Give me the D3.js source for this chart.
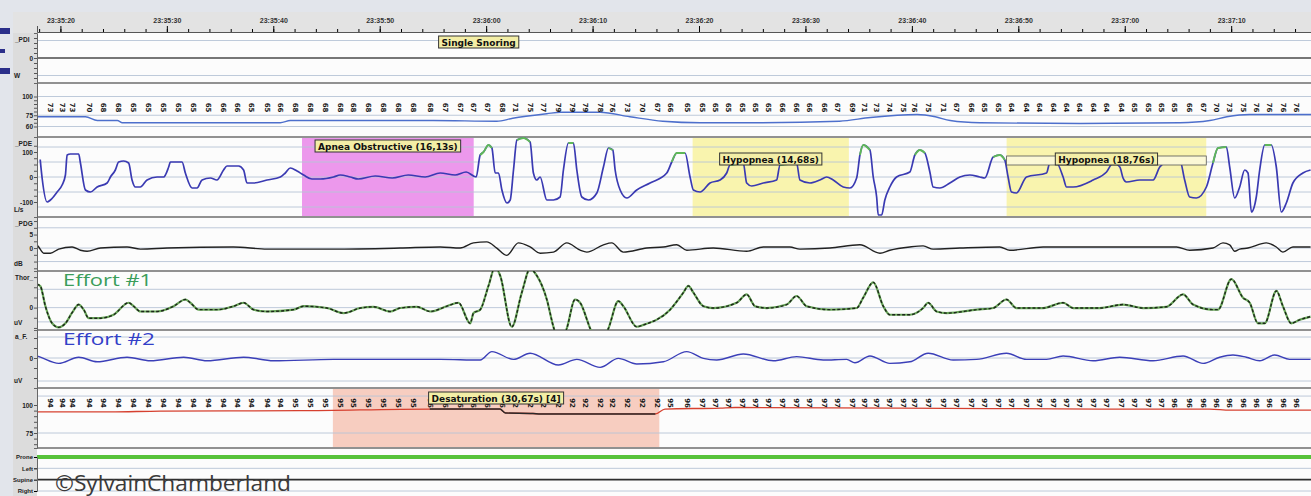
<!DOCTYPE html>
<html>
<head>
<meta charset="utf-8">
<script src="https://cdn.jsdelivr.net/npm/d3@7"></script>
<style>
  body { margin: 0; background: #e3e6ec; overflow: hidden; }
  svg { display: block; }
</style>
</head>
<body>
<div id="chart"></div>
<script>
// ---- data (time in seconds after 23:35:20) ----
const t0 = new Date(2024, 0, 1, 23, 35, 20);
const tStart = -2.2, tEnd = 117.5;

const channelNames = ["_PDI", "", "_PDE", "_PDG", "Thor_", "a_F.", "", ""];
const channelUnits = ["W", "", "L/s", "dB", "uV", "uV", "", ""];
const axisLabels = [[0], [100, 75, 60], [100, 0, -100], [5, 0], [0], [0], [100, 75], []];
const positionCats = ["Prone", "Left", "Supine", "Right"];

const snore = [[-2.2, 0], [117.5, 0]];

const heartRate = [[-2.2,73],[2.35,73],[3.47,68],[5.35,68],[5.82,65],[20.66,65],[21.6,68],[35.0,68],[41.0,67],[42.5,71],[45.7,77],[47.0,79],[50.7,79],[53.5,73],[56.6,67],[60.1,65],[65.7,65],[73.2,67],[76.1,72],[80.5,76],[82.2,73],[83.6,68],[86.4,65],[95.8,64],[105.2,65],[108.0,68],[109.6,73],[111.7,76],[117.5,76]];

const flow = [[-1.9,70],[-1.72,-4],[-1.25,-100],[-0.94,-92],[-0.31,-60],[0.16,-32],[0.47,8],[0.63,88],[0.94,92],[1.72,92],[1.88,56],[2.35,-52],[2.82,-60],[3.45,-40],[4.39,-24],[4.70,0],[5.16,28],[5.47,60],[5.94,64],[6.41,56],[6.73,-12],[7.04,-40],[7.51,-40],[8.14,-12],[9.08,0],[9.70,0],[10.17,40],[10.33,60],[11.43,60],[11.74,16],[12.37,-44],[12.84,-44],[13.31,-12],[14.09,-4],[14.71,-12],[15.33,28],[15.65,44],[16.74,44],[17.21,28],[17.53,-24],[18.15,-24],[19.41,-12],[20.66,0],[21.13,16],[21.60,36],[22.23,24],[22.85,8],[23.63,-8],[24.42,-8],[25.66,0],[26.29,8],[27.23,0],[27.98,-8],[29.58,4],[31.18,-4],[32.68,8],[34.27,0],[35.68,16],[37.09,8],[38.12,20],[39.06,0],
  [39.44,88],[39.75,100],[40.22,128],[40.54,116],[40.85,16],[41.16,16],[41.48,-52],[41.95,-104],[42.26,-92],[42.57,28],[42.89,148],[43.51,156],[44.13,140],[44.44,16],[44.76,-12],[45.07,0],[45.70,-92],[46.32,-92],[46.95,-80],[47.26,28],[47.73,136],[48.20,136],[48.52,28],[48.99,-80],[49.61,-92],[50.40,-64],[51.02,40],[51.49,116],[51.90,108],[52.12,28],[52.59,-52],[53.22,-84],[54.15,-52],[55.40,-24],[56.97,16],[57.44,60],[57.91,96],[58.69,96],[59.16,0],[59.47,-52],[60.10,-60],[61.03,-24],[61.97,-12],[62.60,16],[62.91,48],[64.16,56],[64.48,-24],[64.95,-36],[66.04,-24],[67.29,-12],[67.61,48],[69.17,56],[69.48,-12],[70.42,-24],[71.36,-12],[71.99,0],[72.61,-12],[73.55,-40],[74.18,-44],[74.81,-4],[75.12,88],[75.43,128],[76.06,108],[76.37,0],[76.69,-80],[76.84,-152],[77.16,-152],[77.46,-92],[77.93,-40],[78.56,0],[79.81,20],[80.28,88],[80.75,108],[81.22,96],[81.69,20],[82.00,-40],[82.63,-44],[83.57,-24],[84.51,0],[85.45,8],[86.38,0],[86.85,-4],[87.64,80],[88.26,88],[88.73,68],[89.04,0],[89.36,-60],[89.83,-64],[90.77,0],[92.65,16],[92.96,56],[93.59,56],[94.21,0],[94.53,-40],[95.15,-40],[97.03,-12],[98.29,20],[98.91,56],[99.54,40],[99.84,-4],[100.16,-20],[101.41,-12],[102.66,-12],[103.29,40],[103.92,60],[105.17,68],[105.63,-12],[106.10,-80],[106.73,-84],[107.67,-40],[108.29,56],[108.76,116],[109.55,120],[109.86,40],[110.33,-84],[110.80,-40],[111.27,28],[111.58,16],[111.90,-140],[112.36,-80],[112.68,28],[113.15,128],[113.77,128],[114.24,40],[114.71,-140],[115.18,-104],[115.80,-24],[116.74,16],[117.46,28]];

const pdg = [[-2.2,1.2],[-2.04,0.4],[-1.57,-1.9],[-0.94,-1.9],[-0.16,-0.4],[1.10,0.4],[1.88,-0.8],[2.51,-1.2],[3.76,0],[6.26,0.4],[7.51,-0.4],[10.02,0],[16.25,0.4],[19.41,-0.4],[25.63,-0.4],[31.92,0],[35.68,0.4],[37.56,0],[38.81,1.9],[40.06,2.3],[41.00,0],[41.94,-2.7],[43.03,1.9],[44.13,0.4],[45.07,-1.9],[46.32,-1.5],[47.58,1.9],[48.83,-0.8],[49.46,-1.5],[51.02,1.2],[51.80,1.9],[52.89,-1.5],[55.09,0],[56.65,0.4],[57.91,1.2],[58.85,-0.8],[61.34,0],[64.48,-1.2],[66.04,0.4],[68.54,0.4],[69.48,-0.4],[72.30,0],[75.12,1.2],[77.00,-1.9],[77.93,-0.8],[79.81,0.4],[81.06,0.8],[82.00,-0.4],[84.51,0],[88.26,0.4],[89.20,-0.8],[92.33,0.4],[97.03,0.4],[104.87,0.4],[106.10,-0.8],[108.29,0],[109.23,1.9],[109.86,1.2],[110.33,-1.2],[110.80,-0.4],[111.58,0],[113.30,1.9],[114.24,0.4],[114.86,-1.5],[115.80,0.4],[117.46,0.4]];

const effort1 = [[-2.19,115],[-1.88,105],[-1.41,7],[-0.78,-77],[-0.16,-97],[0.47,-77],[1.10,-25],[1.72,15],[2.19,-10],[2.66,-52],[3.76,-52],[5.00,-35],[6.41,24],[6.88,7],[7.51,-19],[9.08,-19],[10.64,7],[11.74,40],[12.21,24],[12.99,-10],[14.71,-10],[16.27,7],[17.21,24],[18.15,-10],[19.41,-19],[21.91,-10],[22.85,7],[25.04,-2],[26.60,-27],[28.17,-2],[29.42,4],[30.99,-19],[31.93,-2],[33.49,4],[34.74,-19],[36.31,7],[37.40,24],[38.50,-77],[38.81,-27],[39.44,-10],[40.22,107],[40.85,200],[41.32,157],[42.41,-94],[43.35,74],[44.13,190],[44.76,157],[45.70,40],[46.32,-94],[46.95,-185],[47.58,-102],[48.36,40],[48.83,24],[49.77,-102],[50.52,-185],[51.49,-102],[52.42,32],[52.89,7],[54.15,-94],[54.77,-85],[57.28,-10],[58.53,74],[59.00,107],[59.47,74],[60.41,7],[61.34,-2],[63.54,24],[64.48,65],[65.26,7],[66.36,-2],[68.23,15],[69.17,57],[70.11,7],[72.30,-10],[74.81,-2],[75.43,49],[76.37,124],[77.31,7],[77.93,-35],[79.81,-35],[81.06,-2],[81.53,24],[82.32,-19],[83.26,-27],[86.08,-10],[87.64,-2],[88.89,40],[89.83,-2],[92.33,-2],[94.21,24],[95.15,-2],[97.66,-2],[99.84,15],[101.72,-2],[103.92,4],[105.48,65],[106.42,15],[108.29,-10],[108.76,-10],[110.02,140],[111.11,49],[111.74,24],[112.52,-77],[113.15,-77],[114.25,82],[114.86,7],[115.65,-77],[116.43,-60],[117.46,-44]];

const effort2 = [[-2.2,10],[-1.88,4],[-0.16,-27],[1.72,4],[3.45,-19],[6.26,4],[8.45,-14],[11.58,4],[13.78,-14],[17.21,4],[20.03,-14],[25.66,-7],[30.68,-7],[35.68,-7],[39.44,-10],[40.54,32],[42.57,-7],[44.13,24],[46.79,-35],[48.52,-7],[50.71,-47],[52.42,-2],[54.15,-30],[56.65,-19],[58.85,32],[60.41,-2],[61.66,-10],[64.16,20],[66.98,-14],[69.17,7],[71.67,-10],[73.87,-7],[74.65,-24],[76.06,10],[77.93,-27],[79.81,-19],[81.53,24],[83.88,-10],[86.08,-7],[88.89,24],[90.77,-7],[92.65,-7],[94.21,10],[97.03,-14],[99.53,4],[102.66,-14],[105.48,10],[107.36,-27],[108.92,4],[110.17,15],[111.42,4],[112.68,-14],[114.09,15],[115.49,-7],[117.46,-7]];

const spo2 = [[-2.2,93.8],[4.7,93.8],[9.4,94.6],[22.5,94.9],[34.7,96.4],[41.3,96.4],[41.8,92.9],[44.4,92.4],[45.1,92.0],[55.9,92.0],[56.8,96.4],[62.0,97.3],[63.4,97.8],[78.9,97.3],[97.7,96.4],[108.0,96.4],[109.9,95.5],[117.5,95.5]];

const position = [[-2.2, "Prone"], [117.5, "Prone"]];

// beat-by-beat value marks (pulse oximeter)
const beatT = [-0.94,0.16,1.10,2.75,4.07,5.47,6.88,8.29,9.70,11.11,12.52,13.93,15.33,16.65,17.91,19.41,20.66,22.07,23.48,24.89,26.29,27.54,28.95,30.36,31.77,33.18,34.74,36.15,37.56,38.78,40.09,41.50,42.72,44.13,45.35,46.76,48.08,49.30,50.71,51.83,53.24,54.65,56.06,57.28,58.88,60.28,61.50,62.73,64.04,65.26,66.48,67.80,69.20,70.42,71.83,73.05,74.37,75.59,76.69,77.93,79.18,80.28,81.53,82.94,84.20,85.61,86.86,88.11,89.36,90.77,92.02,93.27,94.53,95.78,97.03,98.29,99.69,100.94,102.19,103.45,104.70,106.10,107.36,108.61,109.86,111.11,112.37,113.62,114.87,116.13];
const hrBeat = [73,73,73,70,68,68,65,65,65,65,65,65,66,66,65,65,66,68,68,68,68,68,68,68,68,68,68,67,67,67,67,68,71,75,77,79,79,79,78,76,73,70,67,66,65,65,65,65,65,65,65,66,66,66,66,67,69,71,73,74,75,76,75,71,67,66,65,65,64,64,64,64,64,64,64,64,64,65,65,65,65,66,67,70,73,75,76,76,76,76];
const spo2Beat = [94,94,94,94,94,94,94,94,94,94,94,94,94,94,94,94,94,95,95,95,95,95,95,95,95,95,96,96,96,96,96,96,92,92,92,92,92,92,92,92,92,92,92,95,96,97,97,97,97,97,97,97,97,97,97,97,97,97,97,97,97,97,97,97,97,97,97,97,97,97,97,97,97,97,97,97,97,97,97,97,96,96,96,96,96,96,96,96,96,96];

const events = [
  { kind: "snore", label: "Single Snoring", start: 38.9, dur: 0.8 },
  { kind: "apnea", label: "Apnea Obstructive (16,13s)", start: 22.7, dur: 16.13 },
  { kind: "hypopnea", label: "Hypopnea (14,68s)", start: 59.4, dur: 14.68 },
  { kind: "hypopnea", label: "Hypopnea (18,76s)", start: 88.9, dur: 18.76, selected: true },
  { kind: "desat", label: "Desaturation (30,67s) [4]", start: 25.6, dur: 30.67 }
];

// ---- layout ----
const W = 1311, H = 496;
const X0 = 37, X1 = 1311;

const rows = [
  { top: 33,  bottom: 83,  domain: [-10, 10],     grid: [7, -7],              minor: [-8,-6,-4,-2,2,4,6,8] },
  { top: 83,  bottom: 137, domain: [46, 118],     grid: [100, 75, 60],        minor: [65,70,80,85,90,95] },
  { top: 137, bottom: 217, domain: [-160, 160],   grid: [120, 60, 0, -60, -120], minor: [-75,-50,-25,25,50,75,125] },
  { top: 217, bottom: 271, domain: [-8.5, 11.5],  grid: [7.5, 0, -5],         minor: [-7.5,-5,-2.5,2.5,7.5,10] },
  { top: 271, bottom: 330, domain: [-110, 180],   grid: [90, 0, -70],         minor: [-100,-50,50,100,150] },
  { top: 330, bottom: 388, domain: [-150, 140],   grid: [105, 0, -115],       minor: [-100,-50,50,100] },
  { top: 388, bottom: 448, domain: [61.6, 115.2], grid: [108, 75],            minor: [65,70,80,85,90,95] },
  { top: 448, bottom: 496, domain: null,          grid: [],                   minor: [] }
];
rows.forEach(r => {
  if (r.domain) r.y = d3.scaleLinear().domain(r.domain).range([r.bottom, r.top]);
});
const yPos = d3.scalePoint().domain(positionCats).range([457, 491]);

const x = d3.scaleLinear().domain([tStart, tEnd]).range([X0, X1]);
const xt = d3.scaleTime()
  .domain([new Date(+t0 + tStart * 1000), new Date(+t0 + tEnd * 1000)])
  .range([X0, X1]);

const svg = d3.select("#chart").append("svg")
  .attr("width", W).attr("height", H);

const defs = svg.append("defs");
rows.forEach((r, i) => {
  defs.append("clipPath").attr("id", "clip" + i)
    .append("rect").attr("x", X0).attr("y", r.top)
    .attr("width", X1 - X0).attr("height", r.bottom - r.top);
});

// backgrounds
svg.append("rect").attr("width", W).attr("height", H).attr("fill", "#e2e5eb");
svg.append("rect").attr("x", X0).attr("y", 33).attr("width", X1 - X0).attr("height", H - 33).attr("fill", "#fcfcfc");

// event shading
const fillColor = { apnea: "#ec98ec", hypopnea: "#f9f4ae", desat: "#f7cdc0", snore: "none" };
const eventRow = { snore: 0, apnea: 2, hypopnea: 2, desat: 6 };
const labelDrop = { snore: 3, apnea: 3, hypopnea: 16, desat: 4 };

events.forEach(e => {
  const r = rows[eventRow[e.kind]];
  svg.append("rect")
    .attr("x", x(e.start)).attr("y", r.top + 1)
    .attr("width", x(e.start + e.dur) - x(e.start))
    .attr("height", r.bottom - r.top - 2)
    .attr("fill", fillColor[e.kind]);
});

// grid lines
rows.forEach(r => {
  if (!r.y) return;
  svg.append("g").selectAll("line").data(r.grid).join("line")
    .attr("x1", X0).attr("x2", X1)
    .attr("y1", d => r.y(d)).attr("y2", d => r.y(d))
    .attr("stroke", "#b7c4d6").attr("stroke-width", 0.9);
});
svg.append("g").selectAll("line").data(positionCats).join("line")
  .attr("x1", X0).attr("x2", X1)
  .attr("y1", d => yPos(d)).attr("y2", d => yPos(d))
  .attr("stroke", d => d === "Supine" ? "#2e2e2e" : "#b7c4d6")
  .attr("stroke-width", d => d === "Supine" ? 1.6 : 0.9);

// row separators
svg.append("g").selectAll("line").data(rows.slice(1)).join("line")
  .attr("x1", X0).attr("x2", X1)
  .attr("y1", d => d.top).attr("y2", d => d.top)
  .attr("stroke", "#6e6e6e").attr("stroke-width", 1.3);

// traces
function trace(i, data, color, width, opts = {}) {
  const r = rows[i];
  const line = d3.line()
    .x(d => x(d[0])).y(d => r.y(d[1]))
    .curve(d3.curveMonotoneX);
  if (opts.defined) line.defined(opts.defined);
  return svg.append("path")
    .datum(data)
    .attr("clip-path", `url(#clip${i})`)
    .attr("d", line)
    .attr("fill", "none")
    .attr("stroke", color)
    .attr("stroke-width", width)
    .attr("stroke-linejoin", "round")
    .attr("stroke-dasharray", opts.dash || null);
}

trace(0, snore, "#4a4a4a", 1.4);
trace(1, heartRate, "#4d6fcc", 1.3);
trace(2, flow, "#3a3ab2", 1.7);
trace(2, flow, "#5fb858", 1.9, { defined: d => d[0] > 39 && d[1] >= 45 });
trace(3, pdg, "#222", 1.4);
trace(4, effort1, "#6aa85a", 2.2);
trace(4, effort1, "#1c261a", 1.4, { dash: "3,2" });
trace(5, effort2, "#3b3fb8", 1.4);
trace(6, spo2, "#d6402f", 1.3);
trace(6, spo2, "#2a2a2a", 1.4, { defined: d => d[0] >= 25.6 && d[0] <= 56.3 });

// body position
svg.append("path")
  .datum(position)
  .attr("d", d3.line().x(d => x(d[0])).y(d => yPos(d[1])).curve(d3.curveStepAfter))
  .attr("fill", "none").attr("stroke", "#57c23a").attr("stroke-width", 4);

// beat value marks (rotated)
function beatMarks(values, yc) {
  svg.append("g").selectAll("text").data(beatT).join("text")
    .attr("transform", t => `translate(${x(t)},${yc}) rotate(90)`)
    .attr("text-anchor", "middle").attr("dy", "0.35em")
    .style("font", "bold 7px 'DejaVu Sans', sans-serif")
    .attr("fill", "#1a1a1a")
    .text((t, i) => values[i]);
}
beatMarks(hrBeat, 107.5);
beatMarks(spo2Beat, 403);

// event labels
events.forEach(e => {
  const r = rows[eventRow[e.kind]];
  const cx = x(e.start + e.dur / 2);
  const y0 = r.top + labelDrop[e.kind];
  if (e.selected) {
    svg.append("rect")
      .attr("x", x(e.start)).attr("y", y0 + 3)
      .attr("width", x(e.start + e.dur) - x(e.start)).attr("height", 9)
      .attr("fill", "#fbf8d6").attr("stroke", "#555").attr("stroke-width", 0.8);
  }
  const g = svg.append("g");
  const txt = g.append("text")
    .attr("x", cx).attr("y", y0 + 9.5)
    .attr("text-anchor", "middle")
    .style("font", "bold 9px 'DejaVu Sans', sans-serif")
    .attr("fill", "#111")
    .text(e.label);
  const w = txt.node().getComputedTextLength() + 6;
  g.insert("rect", "text")
    .attr("x", cx - w / 2).attr("y", y0)
    .attr("width", w).attr("height", 12)
    .attr("fill", "#f3eea6").attr("stroke", "#333").attr("stroke-width", 1);
});

// left panel
svg.append("rect").attr("x", 13).attr("y", 12).attr("width", X0 - 13).attr("height", H - 12).attr("fill", "#dcdcdc");

rows.forEach((r, i) => {
  if (!r.y) return;
  const ticks = r.minor.concat(axisLabels[i]).filter(v => v > r.domain[0] && v < r.domain[1]);
  const ax = svg.append("g")
    .attr("transform", `translate(${X0},0)`)
    .call(d3.axisLeft(r.y).tickValues(ticks).tickSize(3).tickPadding(1)
      .tickFormat(d => axisLabels[i].includes(d) ? d : ""));
  ax.select(".domain").attr("stroke", "#666");
  ax.selectAll("line").attr("stroke", "#555");
  ax.selectAll("text").style("font", "bold 6.5px 'Liberation Sans', Arial, sans-serif").attr("fill", "#222");
  if (channelNames[i]) {
    svg.append("text").attr("x", 15).attr("y", r.top + 9)
      .style("font", "bold 6.5px 'Liberation Sans', Arial, sans-serif").attr("fill", "#222")
      .text(channelNames[i]);
  }
  if (channelUnits[i]) {
    svg.append("text").attr("x", 14).attr("y", r.bottom - 5)
      .style("font", "bold 6.5px 'Liberation Sans', Arial, sans-serif").attr("fill", "#222")
      .text(channelUnits[i]);
  }
});
const posAx = svg.append("g")
  .attr("transform", `translate(${X0},0)`)
  .call(d3.axisLeft(yPos).tickSize(3).tickPadding(1));
posAx.select(".domain").attr("stroke", "#666");
posAx.selectAll("text").style("font", "bold 6px 'Liberation Sans', Arial, sans-serif").attr("fill", "#222");

// time axis band
svg.append("rect").attr("x", 13).attr("y", 12).attr("width", X1 - 13).attr("height", 21).attr("fill", "#e3e3e3");
const major = svg.append("g").attr("transform", "translate(0,32)")
  .call(d3.axisTop(xt).ticks(d3.timeSecond.every(10)).tickFormat(d3.timeFormat("%H:%M:%S")).tickSize(6).tickPadding(3));
major.select(".domain").attr("stroke", "#555");
major.selectAll("text").style("font", "bold 7px 'Liberation Sans', Arial, sans-serif").attr("fill", "#333");
const minor = svg.append("g").attr("transform", "translate(0,32)")
  .call(d3.axisTop(xt).ticks(d3.timeSecond.every(2)).tickFormat("").tickSize(3));
minor.select(".domain").remove();

// channel captions
svg.append("text").attr("x", 63).attr("y", 286)
  .attr("textLength", 89).attr("lengthAdjust", "spacingAndGlyphs")
  .style("font", "17px 'Open Sans', sans-serif").attr("fill", "#3a9d5a")
  .text("Effort #1");
svg.append("text").attr("x", 63).attr("y", 345)
  .attr("textLength", 92).attr("lengthAdjust", "spacingAndGlyphs")
  .style("font", "17px 'Open Sans', sans-serif").attr("fill", "#3340c8")
  .text("Effort #2");

svg.append("text").attr("x", 55).attr("y", 491)
  .attr("textLength", 236).attr("lengthAdjust", "spacingAndGlyphs")
  .style("font", "21px 'Open Sans', sans-serif").attr("fill", "#3a3a3a")
  .text("©SylvainChamberland");

// slide bullets at the left edge
svg.append("g").selectAll("rect")
  .data([[28, 10, 6], [49, 5, 4], [68, 10, 6]]).join("rect")
  .attr("x", 0).attr("y", d => d[0]).attr("width", d => d[1]).attr("height", d => d[2])
  .attr("fill", "#2b2f8a");
</script>
</body>
</html>
